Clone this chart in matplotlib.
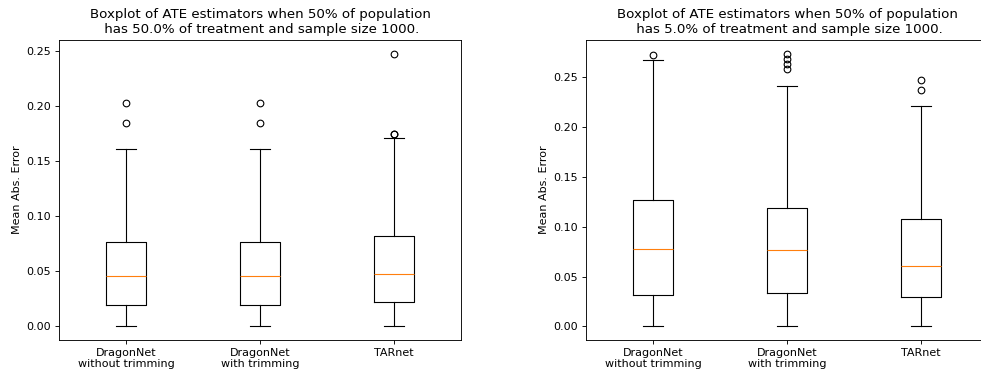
import matplotlib
matplotlib.use("Agg")
import matplotlib.pyplot as plt

labels = ["DragonNet\nwithout trimming", "DragonNet\nwith trimming", "TARnet"]

# panel 1: 50.0% treatment
med_a = [0.046, 0.046, 0.0475]
q1_a = [0.0197, 0.0197, 0.0218]
q3_a = [0.0771, 0.0771, 0.082]
lo_a = [0.0, 0.0, 0.0]
hi_a = [0.161, 0.161, 0.1714]
fl_a = [[0.203, 0.1845], [0.203, 0.1845], [0.1748, 0.1752, 0.248]]

# panel 2: 5.0% treatment
med_b = [0.0778, 0.0768, 0.0605]
q1_b = [0.0314, 0.0334, 0.029]
q3_b = [0.1272, 0.1192, 0.1081]
lo_b = [0.0, 0.0, 0.0]
hi_b = [0.267, 0.241, 0.2207]
fl_b = [[0.2727], [0.2737, 0.2687, 0.2637, 0.2587], [0.2477, 0.237]]


def make_stats(med, q1, q3, lo, hi, fl):
    return [dict(med=med[i], q1=q1[i], q3=q3[i], whislo=lo[i], whishi=hi[i],
                 fliers=fl[i], label=labels[i]) for i in range(len(labels))]


DPI = 80
fig = plt.figure(figsize=(981 / DPI, 375 / DPI), dpi=DPI)
ax1 = fig.add_axes([59 / 981, 35 / 375, 402 / 981, 300 / 375])
ax2 = fig.add_axes([586 / 981, 35 / 375, 402 / 981, 300 / 375])

ax1.bxp(make_stats(med_a, q1_a, q3_a, lo_a, hi_a, fl_a), showfliers=True)
ax1.set_title("Boxplot of ATE estimators when 50% of population\n has 50.0% of treatment and sample size 1000.")
ax1.set_ylabel("Mean Abs. Error")

ax2.bxp(make_stats(med_b, q1_b, q3_b, lo_b, hi_b, fl_b), showfliers=True)
ax2.set_title("Boxplot of ATE estimators when 50% of population\n has 5.0% of treatment and sample size 1000.")
ax2.set_ylabel("Mean Abs. Error")

plt.savefig("out.png", dpi=DPI)
